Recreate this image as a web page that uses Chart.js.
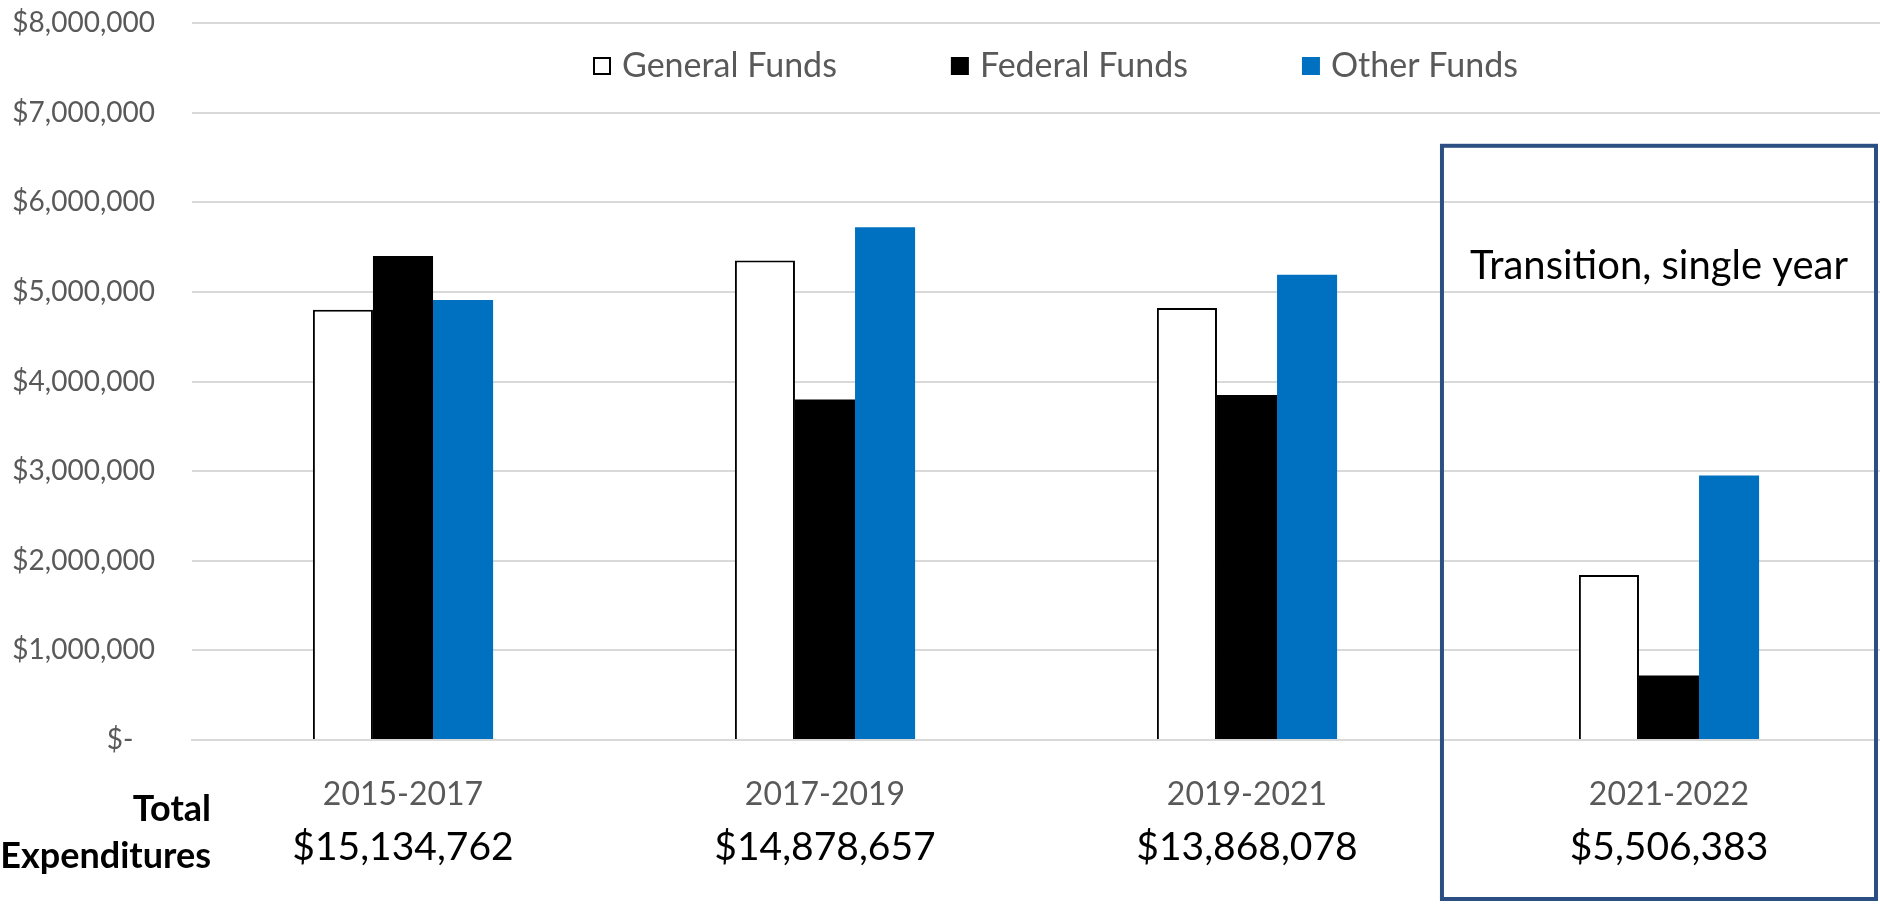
<!DOCTYPE html>
<html>
<head>
<meta charset="utf-8">
<script src="https://cdn.jsdelivr.net/npm/chart.js@4.4.1/dist/chart.umd.min.js"></script>
<style>
  html, body { margin: 0; padding: 0; background: #fff; }
  #wrap { width: 1880px; height: 908px; }
</style>
</head>
<body>
<div id="wrap"><canvas id="fundsChart" width="1880" height="908"></canvas></div>
<script>
const periods = ['2015-2017', '2017-2019', '2019-2021', '2021-2022'];
const totals = ['$15,134,762', '$14,878,657', '$13,868,078', '$5,506,383'];
const seriesNames = ['General Funds', 'Federal Funds', 'Other Funds'];
const generalFunds = [4800000, 5350000, 4820000, 1840000];
const federalFunds = [5400000, 3800000, 3850000, 720000];
const otherFunds = [4910000, 5720000, 5190000, 2950000];
const yMax = 8000000;
const yStep = 1000000;
const boxNote = 'Transition, single year';

const FONT = 'Lato';
const GREY = '#595959';

// money label like Excel accounting format
function money(v) {
  if (v === 0) return '$-   ';
  return '$' + v.toLocaleString('en-US');
}

// extra drawing: legend inside the plot, totals row, the transition box
const extras = {
  id: 'extras',
  afterDraw(chart) {
    const { ctx, chartArea, scales: { x, y } } = chart;
    ctx.save();

    // legend
    const fills = ['#ffffff', '#000000', '#0070c0'];
    ctx.font = `34px ${FONT}`;
    ctx.textBaseline = 'middle';
    ctx.textAlign = 'left';
    let lx = chartArea.left + 401;
    const ly = 66;
    seriesNames.forEach((name, i) => {
      ctx.fillStyle = fills[i];
      ctx.fillRect(lx, ly - 9, 18, 18);
      if (i === 0) {
        ctx.strokeStyle = '#000';
        ctx.lineWidth = 2;
        ctx.strokeRect(lx + 1, ly - 8, 16, 16);
      }
      ctx.fillStyle = GREY;
      ctx.fillText(name, lx + 29, ly);
      lx += 29 + ctx.measureText(name).width + 114;
    });

    // totals under the period labels
    ctx.fillStyle = '#000';
    ctx.textAlign = 'center';
    ctx.font = `39px ${FONT}`;
    totals.forEach((t, i) => {
      ctx.fillText(t, x.getPixelForValue(i), 847);
    });

    ctx.textAlign = 'right';
    ctx.font = `bold 36px ${FONT}`;
    ctx.fillText('Total', 211, 809);
    ctx.fillText('Expenditures', 211, 856);

    // transition box around last period
    const catW = x.width / periods.length;
    const bx = x.getPixelForValue(3) - catW * 0.538;
    const by = y.getPixelForValue(6630000);
    const bw = chartArea.right - 4 - bx;
    const bh = chart.height - 9 - by;
    ctx.strokeStyle = '#2b4f82';
    ctx.lineWidth = 4;
    ctx.strokeRect(bx, by, bw, bh);

    ctx.fillStyle = '#000';
    ctx.textAlign = 'center';
    ctx.font = `40px ${FONT}`;
    ctx.fillText(boxNote, bx + bw / 2, 266);

    ctx.restore();
  }
};

const ctx = document.getElementById('fundsChart').getContext('2d');
new Chart(ctx, {
  type: 'bar',
  data: {
    labels: periods,
    datasets: [
      { label: seriesNames[0], data: generalFunds, backgroundColor: '#ffffff', borderColor: '#000000', borderWidth: 2 },
      { label: seriesNames[1], data: federalFunds, backgroundColor: '#000000' },
      { label: seriesNames[2], data: otherFunds, backgroundColor: '#0070c0' }
    ]
  },
  options: {
    responsive: false,
    animation: false,
    layout: { padding: 0 },
    datasets: { bar: { categoryPercentage: 0.427, barPercentage: 1 } },
    plugins: { legend: { display: false }, tooltip: { enabled: false } },
    scales: {
      x: {
        grid: { display: false, drawTicks: false },
        border: { display: true, color: '#d9d9d9', width: 2 },
        ticks: { color: GREY, font: { family: FONT, size: 32 }, padding: 35 },
        afterFit: s => { s.height = 168; }
      },
      y: {
        min: 0,
        max: yMax,
        ticks: { stepSize: yStep, color: GREY, font: { family: FONT, size: 28 }, padding: 37, callback: v => money(v) },
        grid: { color: '#d9d9d9', lineWidth: 2, drawTicks: false },
        border: { display: false },
        afterFit: s => {
          s.width = 192;
          s.paddingTop = 23;
          s.paddingBottom = 0;
        }
      }
    }
  },
  plugins: [extras]
});
</script>
</body>
</html>
